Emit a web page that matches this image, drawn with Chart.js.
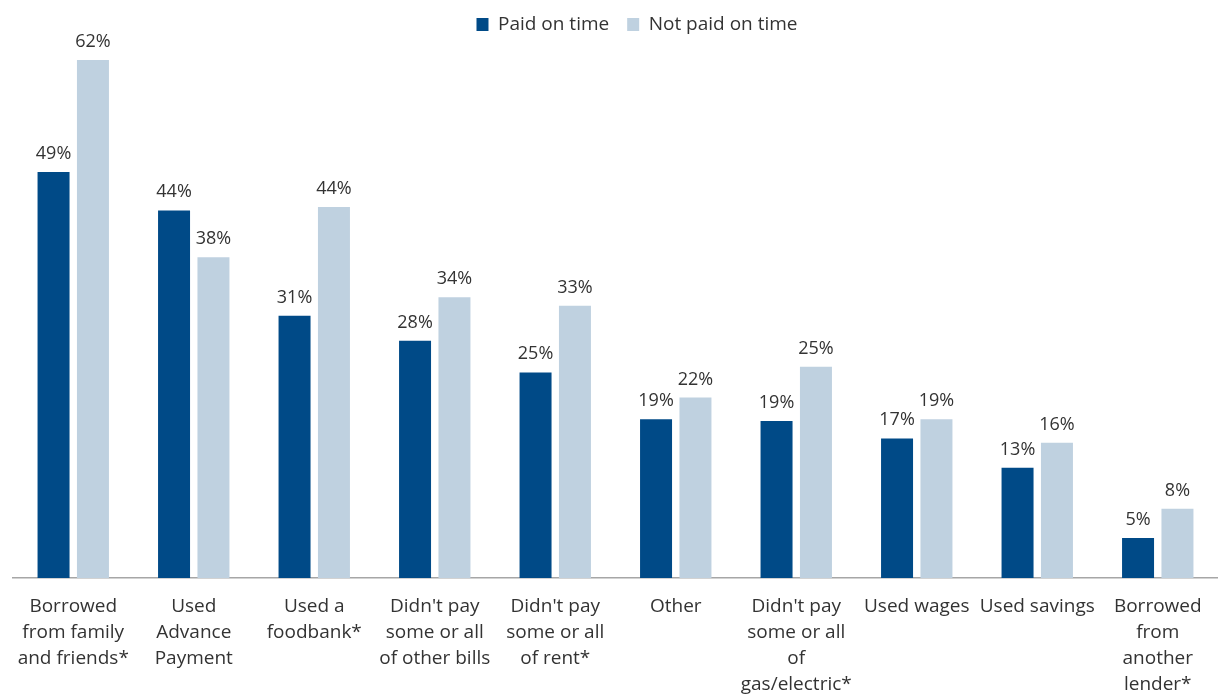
<!DOCTYPE html>
<html>
<head>
<meta charset="utf-8">
<script src="https://cdn.jsdelivr.net/npm/chart.js@4/dist/chart.umd.min.js"></script>
<style>
  html, body { margin: 0; padding: 0; background: #ffffff; }
  #wrap { width: 1218px; height: 695px; position: relative; }
</style>
</head>
<body>
<div id="wrap"><canvas id="c"></canvas></div>
<script>
const categories = [
  ["Borrowed", "from family", "and friends*"],
  ["Used", "Advance", "Payment"],
  ["Used a", "foodbank*"],
  ["Didn't pay", "some or all", "of other bills"],
  ["Didn't pay", "some or all", "of rent*"],
  ["Other"],
  ["Didn't pay", "some or all", "of", "gas/electric*"],
  ["Used wages"],
  ["Used savings"],
  ["Borrowed", "from", "another", "lender*"]
];
const seriesNames = ["Paid on time", "Not paid on time"];
const paidOnTime    = [48.6, 44.0, 31.4, 28.4, 24.6, 19.0, 18.8, 16.7, 13.2, 4.8];
const notPaidOnTime = [62.0, 38.4, 44.4, 33.6, 32.6, 21.6, 25.3, 19.0, 16.2, 8.3];

const FONT = "'Open Sans', 'Noto Sans', sans-serif";
const TEXT = '#333333';

const valueLabels = {
  id: 'valueLabels',
  afterDatasetsDraw(chart) {
    const ctx = chart.ctx;
    ctx.save();
    ctx.font = '18px ' + FONT;
    ctx.fillStyle = TEXT;
    ctx.textAlign = 'center';
    ctx.textBaseline = 'alphabetic';
    chart.data.datasets.forEach((ds, di) => {
      const meta = chart.getDatasetMeta(di);
      meta.data.forEach((bar, i) => {
        ctx.fillText(Math.round(ds.data[i]) + '%', bar.x, bar.y - 13);
      });
    });
    ctx.restore();
  }
};

const legendFix = {
  id: 'legendFix',
  beforeInit(chart) {
    const origFit = chart.legend.fit;
    chart.legend.fit = function () {
      origFit.bind(chart.legend)();
      this.height = 40;
    };
  },
  afterLayout(chart) {
    const lg = chart.legend;
    lg.left += 20; lg.right += 20;
    lg.top -= 3; lg.bottom -= 3;
  }
};

new Chart(document.getElementById('c'), {
  type: 'bar',
  data: {
    labels: categories,
    datasets: [
      { label: seriesNames[0], data: paidOnTime, backgroundColor: '#004a87',
        categoryPercentage: 0.654, barPercentage: 0.812 },
      { label: seriesNames[1], data: notPaidOnTime, backgroundColor: '#bfd1e0',
        categoryPercentage: 0.654, barPercentage: 0.812 }
    ]
  },
  options: {
    responsive: true,
    maintainAspectRatio: false,
    animation: false,
    devicePixelRatio: 1,
    layout: { padding: { left: 13, right: -3, top: 0, bottom: 0 } },
    plugins: {
      legend: {
        display: true,
        position: 'top',
        align: 'center',
        labels: {
          boxWidth: 12, boxHeight: 13, padding: 18,
          color: TEXT,
          font: { family: FONT, size: 19 }
        }
      },
      tooltip: { enabled: false }
    },
    scales: {
      x: {
        grid: { display: false, drawTicks: false },
        border: { display: true, color: '#a6a6a6', width: 1.5 },
        ticks: {
          color: TEXT, autoSkip: false, maxRotation: 0, minRotation: 0,
          padding: 16,
          font: { family: FONT, size: 19, lineHeight: 26 / 19 }
        },
        afterFit(scale) { scale.height = 117; }
      },
      y: {
        display: false,
        min: 0,
        max: 64.4
      }
    }
  },
  plugins: [valueLabels, legendFix]
});
</script>
</body>
</html>
